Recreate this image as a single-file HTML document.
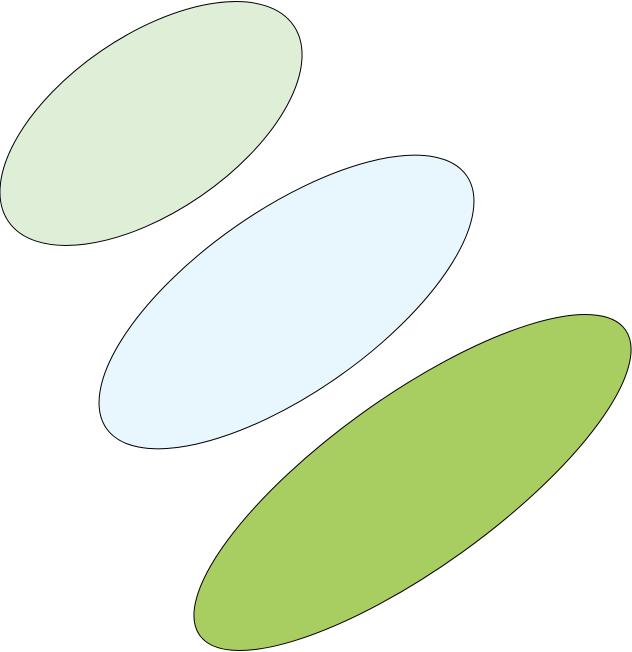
<!DOCTYPE html>
<html>
<head>
<meta charset="utf-8">
<style>
html,body{margin:0;padding:0;background:#fff;width:632px;height:652px;overflow:hidden;}
svg{display:block;overflow:hidden;}
</style>
</head>
<body>
<svg id="chart" width="632" height="652" viewBox="0 0 632 652" xmlns="http://www.w3.org/2000/svg"></svg>
<script>
const centersX = [151, 286.5, 412.5];
const centersY = [123.5, 302, 482.5];
const radiiA = [173, 220, 262];
const radiiB = [88, 91, 85.6];
const angles = [-34.5, -35.1, -35.7];
const fills = ["#dfeed6", "#e8f6fd", "#a8cd60"];
const names = ["ellipse-light-green", "ellipse-light-blue", "ellipse-green"];
const svg = document.getElementById('chart');
const NS = "http://www.w3.org/2000/svg";
for (let i = 0; i < centersX.length; i++) {
  const t = angles[i] * Math.PI / 180;
  const dx = radiiA[i] * Math.cos(t), dy = radiiA[i] * Math.sin(t);
  const x1 = centersX[i] + dx, y1 = centersY[i] + dy;
  const x2 = centersX[i] - dx, y2 = centersY[i] - dy;
  const r = `${radiiA[i]} ${radiiB[i]} ${angles[i]}`;
  const p = document.createElementNS(NS, 'path');
  p.setAttribute('d', `M ${x1} ${y1} A ${r} 1 1 ${x2} ${y2} A ${r} 1 1 ${x1} ${y1} Z`);
  p.setAttribute('fill', fills[i]);
  p.setAttribute('stroke', '#000');
  p.setAttribute('stroke-width', '1');
  
  
  svg.appendChild(p);
}
</script>
</body>
</html>
